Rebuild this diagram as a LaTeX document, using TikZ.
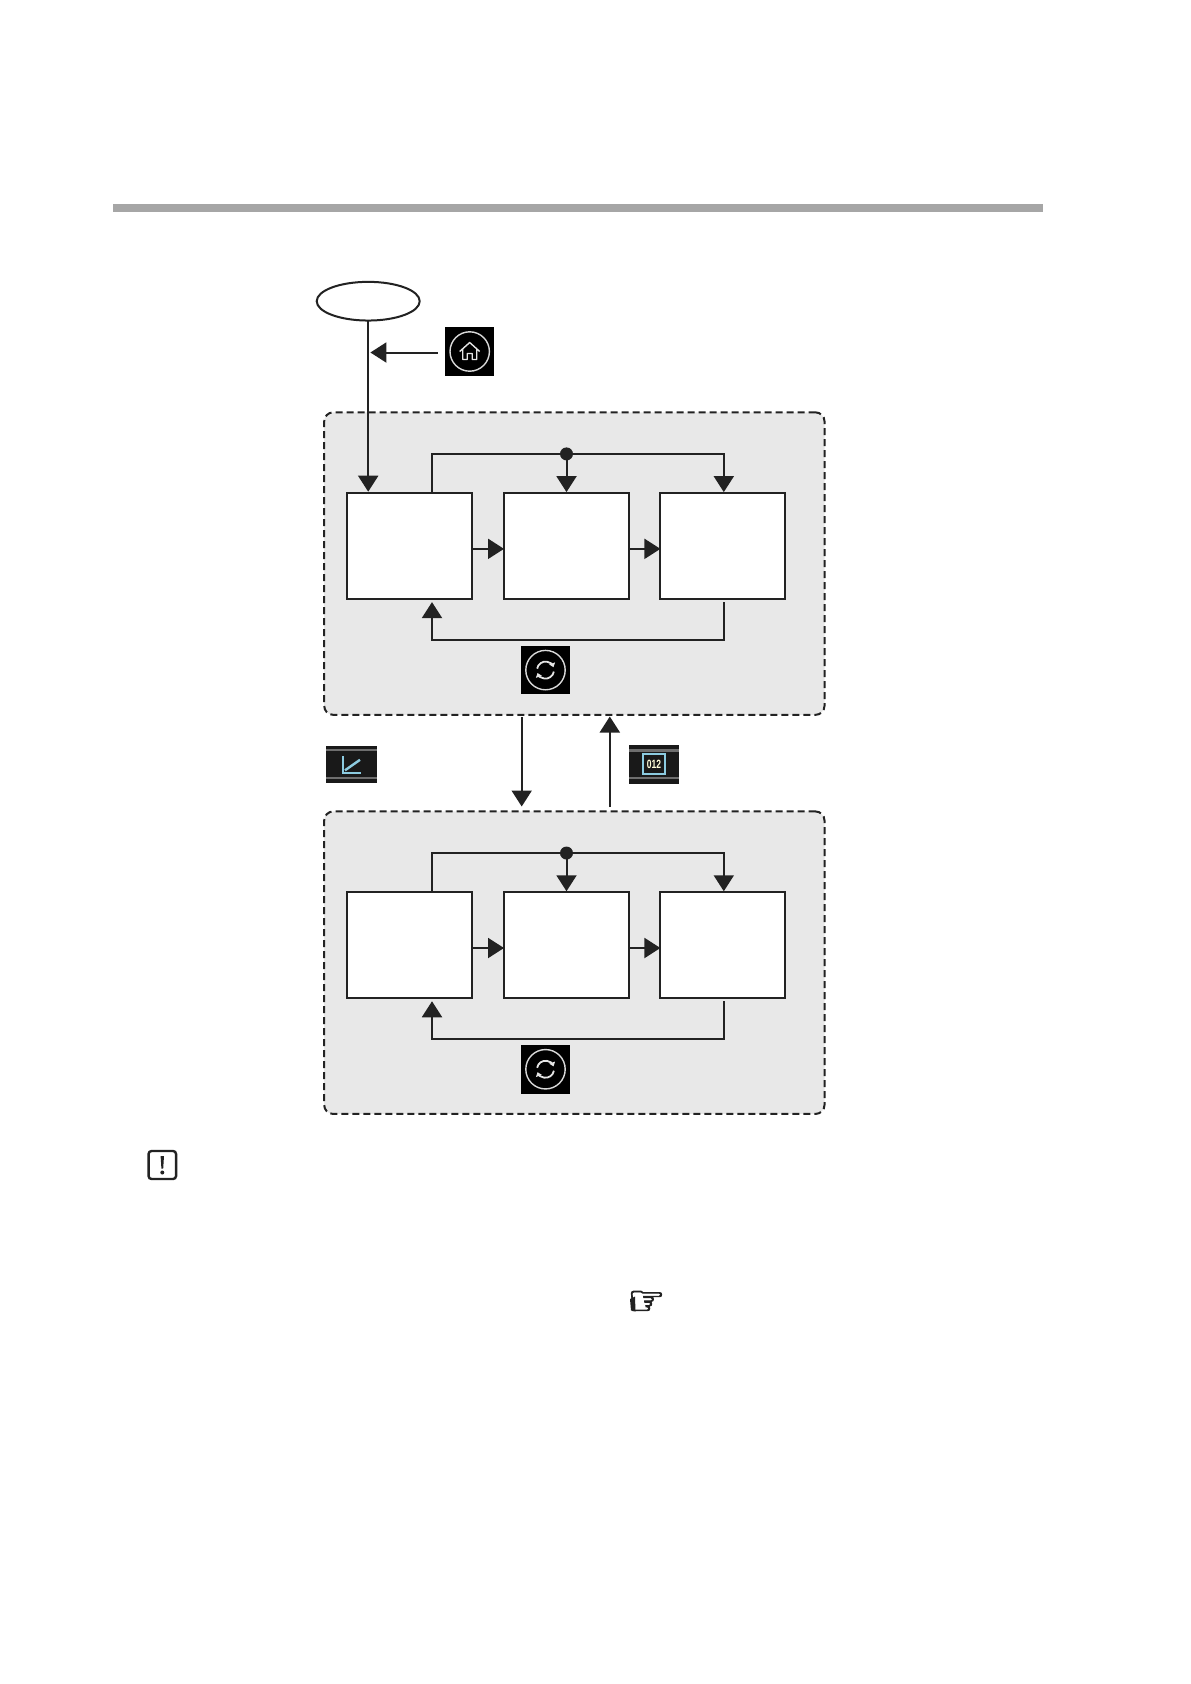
\documentclass[tikz,border=0pt]{standalone}
\usepackage{fontspec}
\setmainfont{Liberation Sans}
\newfontfamily\handfont[FakeBold=2]{DejaVu Sans}
\usetikzlibrary{arrows.meta,shapes.geometric,calc}
\definecolor{ink}{HTML}{222222}
\definecolor{panelgray}{HTML}{E8E8E8}
\definecolor{barcol}{HTML}{A6A6A6}
\definecolor{icyan}{HTML}{8CCBE0}
\definecolor{iband}{HTML}{6E6E6E}
\tikzset{
  x=1pt,y=-1pt,
  every node/.style={inner sep=0pt,outer sep=0pt},
  conn/.style={draw=ink,line width=2pt},
  arr/.style={conn,-{Triangle[width=20pt,length=16pt,color=ink]}},
  box/.style={rectangle,draw=ink,fill=white,line width=2pt,minimum width=125pt,minimum height=106.5pt},
  panel/.style={rectangle,rounded corners=9pt,draw=ink,fill=panelgray,line width=2pt,dash pattern=on 7pt off 4pt,minimum width=500.3pt,minimum height=302.5pt},
  icon/.style={rectangle,fill=black,minimum width=48.5pt,minimum height=48.5pt},
  dotn/.style={circle,fill=ink,minimum size=13pt},
  ring/.style={draw=white!85!black,line width=1.4pt}
}
\begin{document}
\begin{tikzpicture}
\useasboundingbox (0,0) rectangle (1191,1684);
\fill[white] (0,0) rectangle (1191,1684);
\fill[barcol] (112.7,204) rectangle (1042.9,211.5);
% panels
\node[panel] (p1) at (574.35,563.6) {};
\node[panel] (p2) at (574.35,962.7) {};
% start oval
\node[ellipse,draw=ink,fill=white,line width=2pt,minimum width=103pt,minimum height=38.7pt] (start) at (368.2,301.2) {};
% boxes
\node[box] (a1) at (409.5,545.85) {};
\node[box] (a2) at (566.5,545.85) {};
\node[box] (a3) at (722.9,545.85) {};
\node[box] (b1) at (409.5,945) {};
\node[box] (b2) at (566.5,945) {};
\node[box] (b3) at (722.9,945) {};
% home icon
\node[icon] (home) at (469.7,351.5) {};
\draw[ring] (home.center) circle (19.7);
\draw[white!90!black,line width=1.4pt,line join=round]
  ($(home.center)+(-10,0)$) -- ($(home.center)+(0,-9)$) -- ($(home.center)+(10,0)$)
  ($(home.center)+(-7,-2)$) -- ($(home.center)+(-7,8)$) -- ($(home.center)+(-2.5,8)$) -- ($(home.center)+(-2.5,2)$) -- ($(home.center)+(2.5,2)$) -- ($(home.center)+(2.5,8)$) -- ($(home.center)+(7,8)$) -- ($(home.center)+(7,-2)$);
% start to first row
\coordinate (entry) at (368.2,491.7);
\draw[arr] (start.south) -- (entry);
\coordinate (hometip) at (370.4,352.5);
\coordinate (hometail) at (437.5,352.5);
\draw[arr] (hometail) -- (hometip);
% rows
\foreach \pa/\pb/\pc/\pd/\sy in {a1/a2/a3/t1/s1,b1/b2/b3/t2/s2}{
  \node[dotn] (\pd) at ($(\pb.north)+(0,-38.7)$) {};
  \draw[conn] ($(\pa.north)+(22.5,-1)$) |- (\pd.center);
  \draw[arr] (\pd.center) -| ($(\pc.north)+(0.9,-0.5)$);
  \draw[arr] (\pd.center) -- ($(\pb.north)+(0,-0.5)$);
  \draw[arr] ($(\pa.east)+(0,3)$) -- ($(\pb.west)+(0,3)$);
  \draw[arr] ($(\pb.east)+(0,3)$) -- ($(\pc.west)+(0,3)$);
  \draw[arr] ($(\pc.south)+(0.9,3.2)$) |- ($(\pa.south)+(22.5,41)$) -- ($(\pa.south)+(22.5,3)$);
  \node[icon] (\sy) at ($(\pb.south)+(-21,71)$) {};
  \draw[ring] (\sy.center) circle (19.7);
  \draw[white!90!black,line width=1.8pt,-{Triangle[width=6pt,length=4pt]}] ($(\sy.center)+(190:8.5)$) arc (190:340:8.5);
  \draw[white!90!black,line width=1.8pt,-{Triangle[width=6pt,length=4pt]}] ($(\sy.center)+(10:8.5)$) arc (10:160:8.5);
}
% between panels
\coordinate (dtail) at (521.7,717);
\coordinate (dtip) at (521.7,806.5);
\draw[arr] (dtail) -- (dtip);
\coordinate (utail) at (609.8,807);
\coordinate (utip) at (609.8,716.5);
\draw[arr] (utail) -- (utip);
% chart icon
\node[rectangle,fill=black!90,minimum width=50.5pt,minimum height=36.6pt] (chart) at (351.5,764.3) {};
\fill[iband] ($(chart.north west)+(0,3.2)$) rectangle ($(chart.north east)+(0,5.4)$);
\fill[iband] ($(chart.south west)+(0,-5.6)$) rectangle ($(chart.south east)+(0,-3.4)$);
\draw[icyan,line width=2.4pt] ($(chart.center)+(-8.5,-8)$) -- ($(chart.center)+(-8.5,8.5)$) -- ($(chart.center)+(9,8.5)$);
\draw[icyan,line width=2.4pt] ($(chart.center)+(-6.5,6)$) -- ($(chart.center)+(8.5,-4.5)$);
% 012 icon
\node[rectangle,fill=black!90,minimum width=49.5pt,minimum height=38.7pt] (num) at (654,764.35) {};
\fill[iband] ($(num.north west)+(0,4.4)$) rectangle ($(num.north east)+(0,6.6)$);
\fill[iband] ($(num.south west)+(0,-6.6)$) rectangle ($(num.south east)+(0,-4.4)$);
\node[rectangle,draw=icyan,line width=2pt,minimum width=22pt,minimum height=20pt,font=\bfseries\fontsize{10}{10}\selectfont,text=white!85!yellow] (numt) at (num.center) {\scalebox{0.85}[1.2]{012}};
% warning icon
\node[rectangle,rounded corners=3pt,draw=ink,fill=white,line width=2.4pt,minimum width=27.5pt,minimum height=28pt] (warn) at (162.3,1165) {};
\fill[ink] ($(warn.center)+(-1.7,-9)$) -- ($(warn.center)+(1.7,-9)$) -- ($(warn.center)+(0.9,3.5)$) -- ($(warn.center)+(-0.9,3.5)$) -- cycle;
\fill[ink] ($(warn.center)+(0,7.5)$) circle (2);
% hand
\node[font=\handfont\fontsize{42}{42}\selectfont,text=ink] (hand) at (646.5,1303) {☞};
\fill[ink] (630,1299) -- (635,1296.5) -- (635.5,1311.5) -- (631,1310.5) -- cycle;
\end{tikzpicture}
\end{document}
